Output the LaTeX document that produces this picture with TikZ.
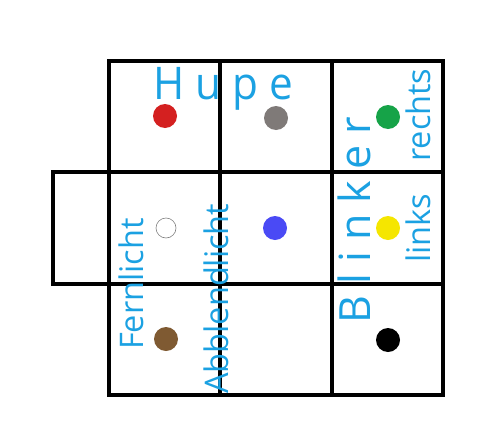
\documentclass[tikz,border=0pt]{standalone}
\usepackage{fontspec}
\setmainfont{Open Sans}
\definecolor{txt}{RGB}{27,161,226}
\definecolor{cred}{RGB}{212,32,32}
\definecolor{cgray}{RGB}{127,122,120}
\definecolor{cgreen}{RGB}{22,163,72}
\definecolor{cblue}{RGB}{74,74,245}
\definecolor{cyellow}{RGB}{245,230,0}
\definecolor{cbrown}{RGB}{127,90,50}
\begin{document}
\begin{tikzpicture}[x=1pt,y=-1pt,
  gridline/.style={draw=black,line width=3.4pt},
  dot/.style={circle,inner sep=0pt,minimum size=24pt,fill=#1},
  big/.style={text=txt,inner sep=0pt,font=\fontsize{45}{45}\selectfont},
  small/.style={text=txt,inner sep=0pt,font=\fontsize{32.5}{32.5}\selectfont,rotate=90,anchor=base west}]
\useasboundingbox (0,0) rectangle (500,447);
% grid
\draw[gridline] (109,61) rectangle (443,395);
\draw[gridline] (220,61) -- (220,395);
\draw[gridline] (332,61) -- (332,395);
\draw[gridline] (109,172) -- (443,172);
\draw[gridline] (109,284) -- (443,284);
\draw[gridline] (53,172) rectangle (109,284);
% dots
\node[dot=cred] (red) at (165,116) {};
\node[dot=cgray] (gray) at (276,118) {};
\node[dot=cgreen] (green) at (388,117) {};
\node[circle,inner sep=0pt,minimum size=20pt,draw=gray,line width=0.6pt,fill=white] (white) at (166,228) {};
\node[dot=cblue] (blue) at (275,228) {};
\node[dot=cyellow] (yellow) at (388,228) {};
\node[dot=cbrown] (brown) at (166,339) {};
\node[dot=black] (black) at (388,340) {};
% texts
\node[big,anchor=base west,xscale=0.94] (hupe) at (153,99) {H u p e};
\node[big,font=\fontsize{43}{43}\selectfont,rotate=90,anchor=base west] (blinker) at (370,324) {B l i n k e r};
\node[small] (rechts) at (430,162) {rechts};
\node[small] (links) at (430,263) {links};
\node[small] (fern) at (143,350) {Fernlicht};
\node[small] (abbl) at (228,394) {Abblendlicht};
\end{tikzpicture}
\end{document}
